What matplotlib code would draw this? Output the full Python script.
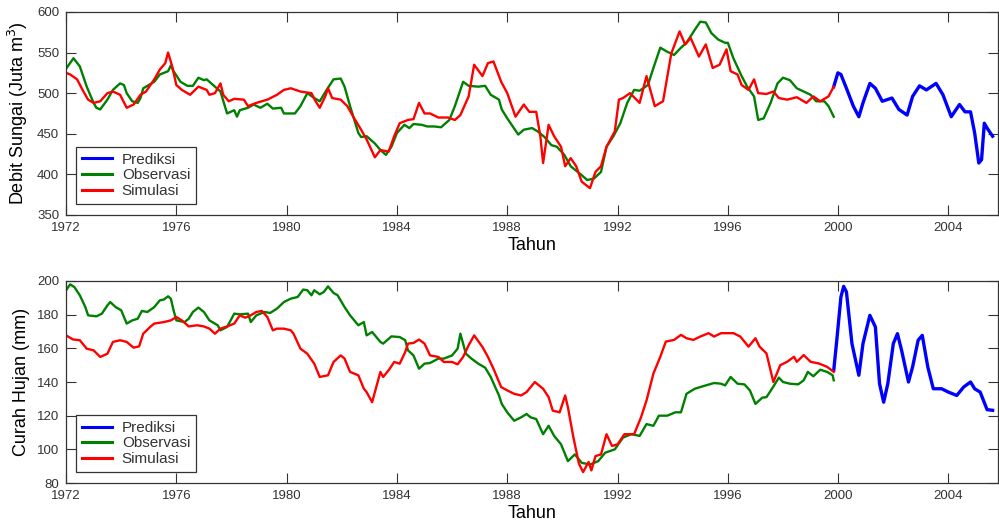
import matplotlib
matplotlib.use('Agg')
import matplotlib.pyplot as plt

plt.rcParams['font.family'] = ['Liberation Sans', 'DejaVu Sans']

# ---- debit sungai (top panel) ----
yr_obs_q = [1972.0, 1972.27, 1972.5, 1972.75, 1973.0, 1973.1, 1973.24, 1973.5, 1973.7, 1973.96,
            1974.1, 1974.2, 1974.4, 1974.6, 1974.7, 1974.8, 1975.2, 1975.4, 1975.7, 1975.8,
            1975.9, 1976.15, 1976.4, 1976.6, 1976.8, 1977.0, 1977.1, 1977.4, 1977.6, 1977.84,
            1978.1, 1978.2, 1978.3, 1978.6, 1978.8, 1979.05, 1979.3, 1979.5, 1979.8, 1979.9,
            1980.3, 1980.5, 1980.75, 1981.0, 1981.2, 1981.45, 1981.7, 1981.96, 1982.1, 1982.3,
            1982.6, 1982.7, 1982.9, 1983.2, 1983.4, 1983.6, 1983.8, 1984.0, 1984.27, 1984.45,
            1984.6, 1984.9, 1985.1, 1985.35, 1985.6, 1985.9, 1986.1, 1986.4, 1986.6, 1986.95,
            1987.2, 1987.4, 1987.7, 1987.8, 1988.0, 1988.4, 1988.6, 1988.9, 1989.1, 1989.35,
            1989.6, 1989.8, 1990.07, 1990.3, 1990.7, 1990.9, 1991.15, 1991.4, 1991.6, 1991.85,
            1992.1, 1992.35, 1992.6, 1992.8, 1993.1, 1993.3, 1993.55, 1993.8, 1994.05, 1994.3,
            1994.5, 1994.8, 1995.0, 1995.2, 1995.4, 1995.65, 1995.9, 1996.0, 1996.2, 1996.5,
            1996.7, 1996.95, 1997.1, 1997.3, 1997.55, 1997.8, 1998.0, 1998.25, 1998.5, 1998.75,
            1999.0, 1999.2, 1999.5, 1999.65, 1999.84]
obs_q = [530, 543, 533, 508, 488, 482, 480, 492, 504, 512,
         510, 500, 490, 488, 494, 506, 514, 523, 527, 534,
         527, 514, 509, 509, 519, 516, 517, 508, 502, 475,
         479, 471, 479, 482, 486, 482, 487, 481, 482, 475,
         475, 484, 500, 494, 490, 504, 517, 518, 508, 484,
         451, 446, 447, 438, 430, 424, 434, 451, 461, 457,
         462, 461, 459, 459, 458, 467, 484, 514, 509, 508,
         509, 498, 492, 480, 469, 449, 455, 457, 453, 446,
         436, 434, 424, 410, 399, 393, 395, 403, 434, 447,
         463, 488, 504, 503, 510, 531, 556, 551, 547, 556,
         562, 578, 588, 587, 574, 566, 562, 562, 543, 521,
         508, 496, 467, 469, 488, 512, 519, 516, 506, 502,
         498, 490, 490, 484, 471]

yr_sim_q = [1972.0, 1972.15, 1972.4, 1972.6, 1972.8, 1973.0, 1973.24, 1973.5, 1973.7, 1973.96,
            1974.2, 1974.45, 1974.7, 1974.9, 1975.2, 1975.4, 1975.6, 1975.7, 1975.85, 1976.0,
            1976.2, 1976.5, 1976.8, 1977.1, 1977.2, 1977.4, 1977.6, 1977.7, 1977.9, 1978.1,
            1978.45, 1978.6, 1978.9, 1979.3, 1979.65, 1979.9, 1980.15, 1980.5, 1980.9, 1981.05,
            1981.2, 1981.4, 1981.5, 1981.65, 1981.96, 1982.2, 1982.45, 1982.7, 1982.9, 1983.2,
            1983.4, 1983.7, 1983.9, 1984.1, 1984.4, 1984.6, 1984.8, 1985.0, 1985.2, 1985.5,
            1985.85, 1986.1, 1986.3, 1986.6, 1986.8, 1987.1, 1987.3, 1987.5, 1987.78, 1988.0,
            1988.3, 1988.6, 1988.8, 1989.05, 1989.2, 1989.3, 1989.5, 1989.7, 1989.95, 1990.1,
            1990.3, 1990.5, 1990.7, 1991.0, 1991.2, 1991.4, 1991.6, 1991.9, 1992.05, 1992.2,
            1992.45, 1992.8, 1993.05, 1993.35, 1993.65, 1993.95, 1994.25, 1994.45, 1994.65, 1994.95,
            1995.2, 1995.45, 1995.7, 1995.95, 1996.1, 1996.35, 1996.5, 1996.75, 1996.95, 1997.1,
            1997.4, 1997.65, 1997.85, 1998.15, 1998.5, 1998.85, 1999.1, 1999.35, 1999.65, 1999.84]
sim_q = [525, 523, 517, 504, 492, 488, 490, 500, 502, 498,
         482, 486, 498, 502, 517, 529, 537, 550, 533, 510,
         504, 498, 508, 504, 498, 500, 512, 498, 490, 493,
         492, 484, 488, 492, 498, 504, 506, 502, 500, 490,
         482, 496, 506, 494, 492, 484, 469, 455, 443, 421,
         430, 428, 447, 463, 467, 468, 488, 475, 475, 470,
         470, 467, 473, 496, 535, 521, 537, 539, 514, 500,
         471, 486, 477, 477, 447, 414, 461, 447, 434, 410,
         420, 410, 391, 383, 403, 410, 434, 453, 492, 494,
         500, 488, 521, 484, 490, 549, 576, 560, 568, 545,
         560, 531, 535, 554, 527, 523, 510, 504, 517, 500,
         499, 502, 494, 492, 495, 488, 496, 490, 496, 508]

yr_pred_q = [1999.84, 1999.99, 2000.1, 2000.3, 2000.55, 2000.75, 2000.9, 2001.15, 2001.35, 2001.6,
             2001.95, 2002.2, 2002.5, 2002.7, 2002.95, 2003.2, 2003.55, 2003.8, 2004.1, 2004.4,
             2004.6, 2004.8, 2004.95, 2005.1, 2005.2, 2005.3, 2005.4, 2005.6]
pred_q = [508, 525, 523, 506, 484, 471, 488, 512, 506, 490,
          494, 480, 473, 496, 509, 504, 512, 498, 471, 486,
          477, 477, 451, 414, 418, 463, 457, 447]

# ---- curah hujan (bottom panel) ----
yr_obs_r = [1972.0, 1972.15, 1972.3, 1972.5, 1972.7, 1972.8, 1973.1, 1973.3, 1973.5, 1973.6,
            1973.8, 1974.0, 1974.2, 1974.4, 1974.6, 1974.75, 1974.95, 1975.2, 1975.4, 1975.55,
            1975.7, 1975.8, 1975.9, 1976.0, 1976.3, 1976.45, 1976.6, 1976.8, 1977.0, 1977.2,
            1977.5, 1977.6, 1977.84, 1978.1, 1978.3, 1978.6, 1978.7, 1978.9, 1979.2, 1979.4,
            1979.65, 1979.9, 1980.15, 1980.4, 1980.6, 1980.75, 1980.9, 1981.0, 1981.2, 1981.35,
            1981.5, 1981.7, 1981.85, 1982.1, 1982.3, 1982.6, 1982.8, 1982.9, 1983.1, 1983.4,
            1983.5, 1983.8, 1984.1, 1984.3, 1984.4, 1984.6, 1984.8, 1985.0, 1985.2, 1985.5,
            1985.7, 1986.0, 1986.2, 1986.3, 1986.5, 1986.7, 1986.95, 1987.2, 1987.4, 1987.7,
            1987.8, 1988.0, 1988.25, 1988.5, 1988.7, 1988.85, 1989.05, 1989.3, 1989.5, 1989.7,
            1989.95, 1990.2, 1990.45, 1990.7, 1991.0, 1991.3, 1991.55, 1991.9, 1992.2, 1992.5,
            1992.8, 1993.05, 1993.3, 1993.5, 1993.8, 1994.1, 1994.3, 1994.5, 1994.8, 1995.1,
            1995.5, 1995.75, 1995.9, 1996.1, 1996.35, 1996.6, 1996.8, 1997.0, 1997.25, 1997.4,
            1997.6, 1997.85, 1998.0, 1998.25, 1998.55, 1998.75, 1998.9, 1999.1, 1999.35, 1999.6,
            1999.8, 1999.84]
obs_r = [194.5, 198, 196.4, 191.5, 184.5, 179.6, 179, 180.6, 185.5, 187.5,
         184.5, 182.6, 174.7, 176.6, 177.6, 182.2, 181.6, 184.5, 188.5, 189,
         190.9, 189.5, 182.6, 176.6, 175.6, 177.6, 181.6, 184.2, 181.6, 176.6,
         173.7, 170.7, 172.7, 180.6, 180.2, 180.6, 175.6, 179.6, 181.6, 181,
         183.6, 187.5, 189.5, 190.5, 194.9, 194.5, 191.5, 194.5, 192.1, 193.5,
         196.8, 192.9, 191.5, 184.5, 179.6, 173.7, 175.6, 167.7, 169.7, 163.8,
         162.8, 167.1, 166.7, 164.8, 158.8, 155.8, 147.9, 150.9, 151.3, 153.9,
         153.9, 155.8, 159.8, 168.7, 156.8, 153.9, 150.9, 148.5, 143, 132,
         127, 122, 117, 119, 121, 119, 118, 109, 114, 108,
         103, 93, 97, 92, 91, 93, 98, 100, 107, 109,
         108, 115, 114, 120, 120, 122, 122, 133, 136, 137.5,
         139.4, 139, 138, 143, 139, 138.6, 135, 127, 130.7, 131,
         136, 142.6, 140, 139, 138.6, 141, 146, 143.4, 147.3, 146,
         144, 141]

yr_sim_r = [1972.0, 1972.25, 1972.5, 1972.75, 1973.0, 1973.24, 1973.5, 1973.7, 1973.96, 1974.2,
            1974.45, 1974.65, 1974.8, 1975.05, 1975.2, 1975.55, 1975.8, 1976.0, 1976.2, 1976.45,
            1976.75, 1977.0, 1977.2, 1977.4, 1977.6, 1977.84, 1978.1, 1978.3, 1978.5, 1978.7,
            1978.9, 1979.1, 1979.3, 1979.5, 1979.65, 1979.9, 1980.15, 1980.25, 1980.5, 1980.75,
            1981.0, 1981.2, 1981.5, 1981.7, 1981.96, 1982.1, 1982.3, 1982.6, 1982.8, 1982.9,
            1983.1, 1983.2, 1983.4, 1983.5, 1983.7, 1983.9, 1984.1, 1984.3, 1984.4, 1984.6,
            1984.8, 1985.0, 1985.2, 1985.5, 1985.7, 1986.0, 1986.2, 1986.4, 1986.6, 1986.8,
            1987.1, 1987.3, 1987.5, 1987.78, 1988.0, 1988.25, 1988.5, 1988.7, 1989.0, 1989.3,
            1989.5, 1989.65, 1989.9, 1990.1, 1990.2, 1990.4, 1990.6, 1990.75, 1990.95, 1991.05,
            1991.2, 1991.4, 1991.6, 1991.8, 1992.0, 1992.25, 1992.6, 1992.85, 1993.05, 1993.3,
            1993.55, 1993.75, 1994.05, 1994.3, 1994.5, 1994.75, 1995.0, 1995.3, 1995.5, 1995.75,
            1996.2, 1996.45, 1996.75, 1997.0, 1997.15, 1997.4, 1997.65, 1997.9, 1998.15, 1998.4,
            1998.5, 1998.75, 1999.0, 1999.3, 1999.6, 1999.84]
sim_r = [167.7, 165.3, 164.8, 159.8, 158.8, 154.9, 156.8, 163.8, 164.8, 163.8,
         160.4, 161.2, 168.7, 172.7, 174.7, 175.6, 176.6, 178.6, 176.6, 173,
         173.7, 173, 171.7, 168.7, 171.7, 173, 174.7, 179.6, 178.2, 179.6,
         181.6, 182.2, 178.6, 170.7, 171.7, 171.7, 170.7, 168.7, 159.8, 156.8,
         150.9, 143, 144, 151.9, 155.8, 153.9, 146, 144, 136, 134,
         128, 134, 146, 143, 147, 151.9, 150.9, 157.8, 162.8, 163.2,
         165.2, 162.8, 155.8, 154.9, 151.9, 151.9, 150.5, 154.9, 161.8, 167.7,
         160.8, 154.9, 147.9, 137, 135, 133, 132, 134, 140, 136,
         131, 123, 122, 132, 125, 107, 91.5, 86.5, 92.5, 87.5,
         96, 97, 109, 102, 103, 109, 109, 119, 129, 145,
         155, 164, 165, 168, 166, 165, 167, 169, 167, 169,
         169, 167, 161, 166, 161, 157, 140, 150, 152, 155,
         152, 156, 152, 151, 149, 146]

yr_pred_r = [1999.84, 1999.95, 2000.1, 2000.2, 2000.3, 2000.5, 2000.75, 2000.9, 2001.15, 2001.35,
             2001.5, 2001.65, 2001.8, 2002.0, 2002.15, 2002.3, 2002.55, 2002.7, 2002.9, 2003.05,
             2003.25, 2003.45, 2003.75, 2004.0, 2004.3, 2004.55, 2004.8, 2004.95, 2005.15, 2005.4,
             2005.6]
pred_r = [147, 164.8, 190.5, 196.8, 193.5, 162.8, 144, 162.8, 179.6, 172.7,
          139, 128, 139, 162.8, 168.7, 158.8, 140, 149, 164.8, 167.7,
          149, 136, 136, 134, 132, 137, 140, 136, 134, 123.6,
          123.2]

year_ticks = list(range(1972, 2005, 4))

c_pred, c_obs, c_sim = '#0000ff', '#008000', '#ff0000'

fig = plt.figure(figsize=(9.99, 5.26), dpi=100)
ax1 = fig.add_axes([0.0661, 0.5913, 0.933, 0.386])
ax2 = fig.add_axes([0.0661, 0.0817, 0.933, 0.3841])

panels = [
    (ax1, (yr_pred_q, pred_q), (yr_obs_q, obs_q), (yr_sim_q, sim_q),
     (350, 600), range(350, 601, 50), 'Debit Sungai (Juta m$^3$)'),
    (ax2, (yr_pred_r, pred_r), (yr_obs_r, obs_r), (yr_sim_r, sim_r),
     (80, 200), range(80, 201, 20), 'Curah Hujan (mm)'),
]

for ax, pred, obs, sim, ylim, yt, ylab in panels:
    ax.plot(pred[0], pred[1], color=c_pred, lw=2.4, label='Prediksi')
    ax.plot(obs[0], obs[1], color=c_obs, lw=1.7, label='Observasi')
    ax.plot(sim[0], sim[1], color=c_sim, lw=1.7, label='Simulasi')
    ax.set_xlim(1972, 2005.8)
    ax.set_ylim(*ylim)
    ax.set_xticks(year_ticks)
    ax.set_yticks(list(yt))
    ax.tick_params(direction='in', length=7, width=0.8, top=True, right=True,
                   labelsize=9.5, labelcolor='#333333', color='#333333', pad=5)
    for s in ax.spines.values():
        s.set_color('#333333')
        s.set_linewidth(0.9)
    ax.set_xlabel('Tahun', fontsize=13, labelpad=2)
    ax.set_ylabel(ylab, fontsize=13)
    ax.yaxis.set_label_coords(-0.039, 0.5)
    leg = ax.legend(loc='lower left', bbox_to_anchor=(0.0107, 0.054), borderaxespad=0,
                    fontsize=11, fancybox=False, framealpha=1, edgecolor='#333333',
                    handlelength=1.95, handletextpad=0.65, labelspacing=0.1,
                    borderpad=0.4)
    leg.get_frame().set_linewidth(0.9)
    for t in leg.get_texts():
        t.set_color('#333333')
    for ln in leg.get_lines():
        ln.set_linewidth(2.2)

fig.savefig('out.png', dpi=100)
